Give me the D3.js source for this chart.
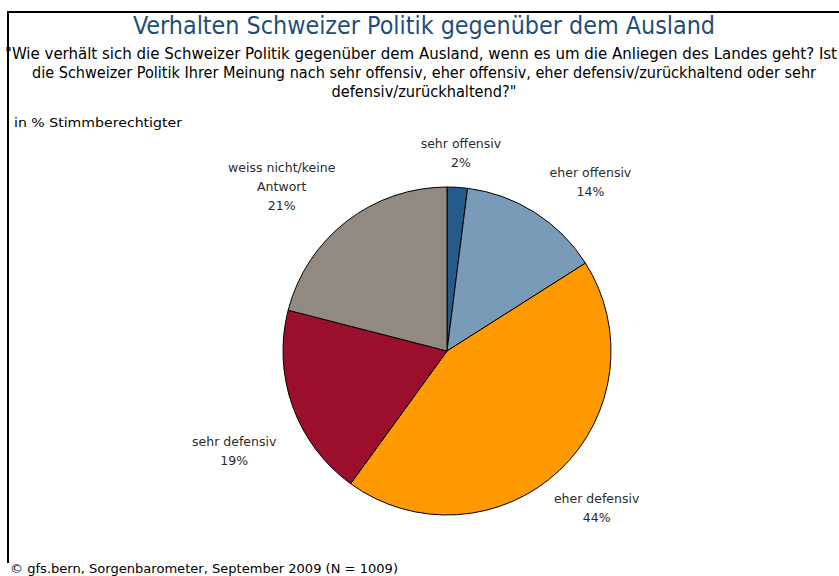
<!DOCTYPE html>
<html>
<head>
<meta charset="utf-8">
<script src="https://cdn.jsdelivr.net/npm/d3@7/dist/d3.min.js"></script>
<style>
  body { margin: 0; background: #fff; }
  svg { display: block; }
  text { font-family: "DejaVu Sans", Verdana, sans-serif; fill: #222; }
  text.narrow { font-family: "Liberation Sans Narrow", "DejaVu Sans Condensed", "DejaVu Sans", sans-serif; }
</style>
</head>
<body>
<svg id="chart" width="839" height="576"></svg>
<script>
  var categories = ['sehr offensiv', 'eher offensiv', 'eher defensiv', 'sehr defensiv', 'weiss nicht/keine Antwort'];
  var values = [2, 14, 44, 19, 21];
  var colors = ['#245b8b', '#7a9bb8', '#ff9900', '#9b0e2c', '#928a80'];
  // label lines per slice, split as in the picture
  var labelLines = [['sehr offensiv', '2%'], ['eher offensiv', '14%'], ['eher defensiv', '44%'],
                    ['sehr defensiv', '19%'], ['weiss nicht/keine', 'Antwort', '21%']];

  var title = 'Verhalten Schweizer Politik gegenüber dem Ausland';
  var subtitle = [
    '"Wie verhält sich die Schweizer Politik gegenüber dem Ausland, wenn es um die Anliegen des Landes geht? Ist',
    'die Schweizer Politik Ihrer Meinung nach sehr offensiv, eher offensiv, eher defensiv/zurückhaltend oder sehr',
    'defensiv/zurückhaltend?"'
  ];
  var unitNote = 'in % Stimmberechtigter';
  var footer = '© gfs.bern, Sorgenbarometer, September 2009 (N = 1009)';

  var svg = d3.select('#chart');

  // frame: top and left border
  svg.append('path')
    .attr('d', 'M8,563 V12 H839')
    .attr('fill', 'none')
    .attr('stroke', '#000')
    .attr('stroke-width', 2);

  svg.append('text')
    .attr('class', 'narrow')
    .attr('x', 424).attr('y', 34)
    .attr('text-anchor', 'middle')
    .attr('textLength', 582).attr('lengthAdjust', 'spacingAndGlyphs')
    .style('font-size', '24px').style('fill', '#1f4e7a')
    .text(title);

  // first line runs right up to the edge in the reference
  var subX = [5, 424, 424], subAnchor = ['start', 'middle', 'middle'];
  var subWidths = [832, 784, 185];
  subtitle.forEach(function (line, i) {
    svg.append('text')
      .attr('class', 'narrow')
      .attr('x', subX[i]).attr('y', 59 + i * 19)
      .attr('text-anchor', subAnchor[i])
      .attr('textLength', subWidths[i]).attr('lengthAdjust', 'spacingAndGlyphs')
      .style('font-size', '16px').style('fill', '#000')
      .text(line);
  });

  svg.append('text')
    .attr('x', 14).attr('y', 127)
    .attr('textLength', 168).attr('lengthAdjust', 'spacingAndGlyphs')
    .style('font-size', '13px').style('fill', '#000')
    .text(unitNote);

  svg.append('text')
    .attr('x', 10).attr('y', 573)
    .attr('textLength', 388).attr('lengthAdjust', 'spacingAndGlyphs')
    .style('font-size', '13px').style('fill', '#000')
    .text(footer);

  var cx = 447, cy = 351, r = 164;
  var data = categories.map(function (c, i) { return { name: c, value: values[i], i: i }; });

  var pie = d3.pie().sort(null).value(function (d) { return d.value; });
  var arc = d3.arc().innerRadius(0).outerRadius(r);
  var arcs = pie(data);

  var g = svg.append('g').attr('transform', 'translate(' + cx + ',' + cy + ')');
  g.selectAll('path.slice')
    .data(arcs)
    .enter().append('path')
    .attr('class', 'slice')
    .attr('d', arc)
    .attr('fill', function (d) { return colors[d.data.i]; })
    .attr('stroke', '#000')
    .attr('stroke-width', 1)
    .attr('stroke-linejoin', 'round');

  // label block centres: distance from pie centre and shift from slice mid-angle
  var labelRadius = [199, 222, 217, 235, 233];
  var labelAngleShift = [0.007, 0.137, -0.007, -0.092, -0.129];
  var lineGap = 19;
  arcs.forEach(function (d) {
    var i = d.data.i;
    var a = (d.startAngle + d.endAngle) / 2 + labelAngleShift[i];
    var lines = labelLines[i];
    var x = Math.sin(a) * labelRadius[i];
    var y = -Math.cos(a) * labelRadius[i] - (lines.length - 1) * lineGap / 2;
    var t = g.append('text')
      .attr('text-anchor', 'middle')
      .style('font-size', '12.5px')
      .style('fill', '#2b2b2b');
    lines.forEach(function (l, k) {
      t.append('tspan').attr('x', x).attr('y', y + k * lineGap + 4.5).text(l);
    });
  });
</script>
</body>
</html>
